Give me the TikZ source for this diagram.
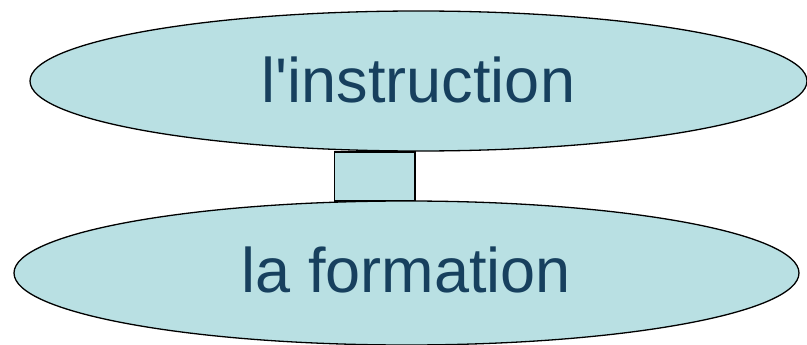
\documentclass[tikz,border=0pt]{standalone}
\usepackage{fontspec}
\setmainfont{Liberation Sans}
\usetikzlibrary{shapes.geometric}
\definecolor{bubble}{RGB}{185,224,227}
\definecolor{ink}{RGB}{23,64,94}
\tikzset{
  bubble/.style={ellipse, draw=black, line width=1.3pt, fill=bubble, inner sep=0pt,
    text=ink, font=\fontsize{63}{76}\selectfont, text height=45pt},
  linkbox/.style={rectangle, draw=black, line width=1.3pt, fill=bubble, inner sep=0pt}
}
\begin{document}
\begin{tikzpicture}[x=1pt,y=-1pt]
  \useasboundingbox (0,0) rectangle (807,345);
  % joint between the two ellipses
  \node[linkbox, minimum width=80.5pt, minimum height=49pt] (link) at (374.75,176.5) {};
  \node[bubble, minimum width=777pt, minimum height=140pt, text depth=2pt] (instr) at (418.5,81) {l\textquotesingle instruction};
  \node[bubble, minimum width=785pt, minimum height=144pt, text depth=6pt] (form) at (406.5,273) {la formation};
\end{tikzpicture}
\end{document}
